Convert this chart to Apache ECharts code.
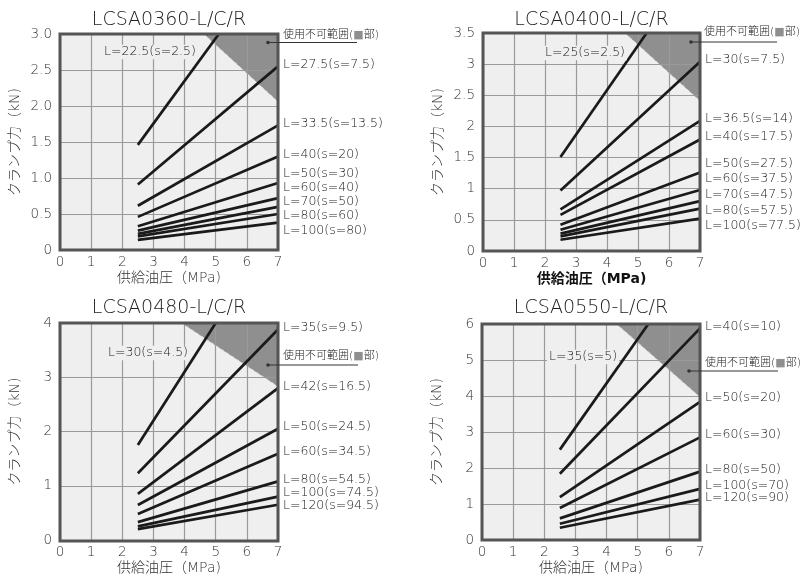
<!DOCTYPE html>
<html>
<head>
<meta charset="utf-8">
<script src="https://cdn.jsdelivr.net/npm/echarts@6/dist/echarts.min.js"></script>
<style>html,body{margin:0;padding:0;background:#fff}#c{width:804px;height:576px}</style>
</head>
<body>
<div id="c"></div>
<script>
// ---------------- DATA ----------------
const titles = ['LCSA0360-L/C/R', 'LCSA0400-L/C/R', 'LCSA0480-L/C/R', 'LCSA0550-L/C/R'];
const xName = '供給油圧（MPa)';
const yName = 'クランプ力（kN)';
const noteText = '使用不可範囲(■部)';
const xTicks = ['0', '1', '2', '3', '4', '5', '6', '7'];

// panel 1
const p1YTicks = ['0', '0.5', '1.0', '1.5', '2.0', '2.5', '3.0'];
const p1Names = ['L=22.5(s=2.5)', 'L=27.5(s=7.5)', 'L=33.5(s=13.5)', 'L=40(s=20)', 'L=50(s=30)', 'L=60(s=40)', 'L=70(s=50)', 'L=80(s=60)', 'L=100(s=80)'];
const p1StartX = [2.5, 2.5, 2.5, 2.5, 2.5, 2.5, 2.5, 2.5, 2.5];
const p1StartY = [1.46, 0.91, 0.615, 0.46, 0.33, 0.27, 0.225, 0.19, 0.14];
const p1EndX = [5.1, 7, 7, 7, 7, 7, 7, 7, 7];
const p1EndY = [3.0, 2.55, 1.73, 1.30, 0.93, 0.72, 0.60, 0.50, 0.38];
const p1Region = [[4.62, 3.0], [7, 3.0], [7, 2.06]];

// panel 2
const p2YTicks = ['0', '0.5', '1', '1.5', '2', '2.5', '3', '3.5'];
const p2Names = ['L=25(s=2.5)', 'L=30(s=7.5)', 'L=36.5(s=14)', 'L=40(s=17.5)', 'L=50(s=27.5)', 'L=60(s=37.5)', 'L=70(s=47.5)', 'L=80(s=57.5)', 'L=100(s=77.5)'];
const p2StartX = [2.5, 2.5, 2.5, 2.5, 2.5, 2.5, 2.5, 2.5, 2.5];
const p2StartY = [1.51, 0.97, 0.67, 0.58, 0.42, 0.34, 0.28, 0.235, 0.18];
const p2EndX = [5.28, 7, 7, 7, 7, 7, 7, 7, 7];
const p2EndY = [3.5, 3.04, 2.09, 1.79, 1.26, 0.98, 0.80, 0.68, 0.52];
const p2Region = [[4.58, 3.5], [7, 3.5], [7, 2.41]];

// panel 3
const p3YTicks = ['0', '1', '2', '3', '4'];
const p3Names = ['L=30(s=4.5)', 'L=35(s=9.5)', 'L=42(s=16.5)', 'L=50(s=24.5)', 'L=60(s=34.5)', 'L=80(s=54.5)', 'L=100(s=74.5)', 'L=120(s=94.5)'];
const p3StartX = [2.5, 2.5, 2.5, 2.5, 2.5, 2.5, 2.5, 2.5];
const p3StartY = [1.75, 1.23, 0.85, 0.645, 0.48, 0.33, 0.25, 0.20];
const p3EndX = [5.0, 7, 7, 7, 7, 7, 7, 7];
const p3EndY = [4.0, 3.88, 2.80, 2.05, 1.59, 1.08, 0.80, 0.65];
const p3Region = [[3.9, 4], [7, 4], [7, 2.83]];

// panel 4
const p4YTicks = ['0', '1', '2', '3', '4', '5', '6'];
const p4Names = ['L=35(s=5)', 'L=40(s=10)', 'L=50(s=20)', 'L=60(s=30)', 'L=80(s=50)', 'L=100(s=70)', 'L=120(s=90)'];
const p4StartX = [2.5, 2.5, 2.5, 2.5, 2.5, 2.5, 2.5];
const p4StartY = [2.51, 1.84, 1.19, 0.89, 0.60, 0.45, 0.34];
const p4EndX = [5.34, 7, 7, 7, 7, 7, 7];
const p4EndY = [6.0, 5.88, 3.84, 2.85, 1.90, 1.42, 1.12];
const p4Region = [[4.32, 6], [7, 6], [7, 3.97]];

// ---------------- LAYOUT / STYLE ----------------
const FONT = "'DejaVu Sans', 'Noto Sans CJK JP', sans-serif";
const W = '300 ';
const TXT = '#222';
const GRIDS = [
  {left: 60, top: 34, width: 218, height: 216},
  {left: 483, top: 33, width: 217, height: 218},
  {left: 60, top: 323, width: 218, height: 218},
  {left: 482, top: 324, width: 218, height: 216}
];
const TITLE_Y = [20, 20, 308, 308];
const LAYOUT = [
  {inline: {x: 104, y: 52}, rightX: 283, rightY: [65, 124, 155, 174, 188, 202, 216, 231],
   note: {tx: 283, ty: 35, ly: 42.5, dx: 268, ex: 357}},
  {inline: {x: 545, y: 53}, rightX: 705, rightY: [60, 119, 137, 164, 179, 195, 211, 226],
   note: {tx: 704, ty: 32, ly: 42, dx: 691, ex: 777}},
  {inline: {x: 108, y: 353}, rightX: 283, rightY: [328, 387, 427, 452, 480, 493, 506],
   note: {tx: 283, ty: 356, ly: 365, dx: 268, ex: 358}},
  {inline: {x: 549, y: 357}, rightX: 705, rightY: [327, 398, 435, 470, 486, 498],
   note: {tx: 705, ty: 363, ly: 371, dx: 689, ex: 778}}
];

const panels = [
  {yTicks: p1YTicks, yMax: 3.0, yStep: 0.5, names: p1Names, sx: p1StartX, sy: p1StartY, ex: p1EndX, ey: p1EndY, region: p1Region},
  {yTicks: p2YTicks, yMax: 3.5, yStep: 0.5, names: p2Names, sx: p2StartX, sy: p2StartY, ex: p2EndX, ey: p2EndY, region: p2Region},
  {yTicks: p3YTicks, yMax: 4, yStep: 1, names: p3Names, sx: p3StartX, sy: p3StartY, ex: p3EndX, ey: p3EndY, region: p3Region},
  {yTicks: p4YTicks, yMax: 6, yStep: 1, names: p4Names, sx: p4StartX, sy: p4StartY, ex: p4EndX, ey: p4EndY, region: p4Region}
];

const grid = [], xAxis = [], yAxis = [], series = [], graphic = [];

panels.forEach((p, i) => {
  const g = GRIDS[i];
  grid.push({left: g.left, top: g.top, width: g.width, height: g.height, show: false});
  xAxis.push({
    gridIndex: i, type: 'value', min: 0, max: 7, interval: 1,
    axisLine: {show: false}, axisTick: {show: false},
    splitLine: {show: true, lineStyle: {color: '#9a9a9a', width: 1.2}},
    axisLabel: {fontSize: 13.5, color: '#333', margin: 6, fontFamily: FONT, fontWeight: 300,
      formatter: v => xTicks[Math.round(v)]},
    name: xName, nameLocation: 'middle', nameGap: 21,
    nameTextStyle: {fontSize: 14, color: i === 1 ? '#111' : '#333', fontFamily: FONT, fontWeight: i === 1 ? 'bold' : 300}
  });
  yAxis.push({
    gridIndex: i, type: 'value', min: 0, max: p.yMax, interval: p.yStep,
    axisLine: {show: false}, axisTick: {show: false},
    splitLine: {show: true, lineStyle: {color: '#9a9a9a', width: 1.2}},
    axisLabel: {fontSize: 13.5, color: '#333', margin: 8, fontFamily: FONT, fontWeight: 300,
      formatter: v => p.yTicks[Math.round(v / p.yStep)]},
    name: yName, nameLocation: 'middle', nameGap: 38,
    nameTextStyle: {fontSize: 14, color: '#333', fontFamily: FONT, fontWeight: 300}
  });
  // unusable region
  series.push({
    type: 'custom', xAxisIndex: i, yAxisIndex: i, z: -5, silent: true, clip: true,
    data: [0],
    renderItem: (params, api) => {
      const pts = p.region.map(pt => api.coord(pt));
      return {type: 'group', children: [
        {type: 'polygon', shape: {points: pts}, style: {fill: '#8f8f8f'}},
        {type: 'line', shape: {x1: pts[0][0], y1: pts[0][1], x2: pts[2][0], y2: pts[2][1]},
         style: {stroke: '#d8d8d8', lineWidth: 1, lineDash: [3, 3]}}
      ]};
    }
  });
  p.names.forEach((n, k) => {
    series.push({
      type: 'line', name: n, xAxisIndex: i, yAxisIndex: i, z: 5,
      data: [[p.sx[k], p.sy[k]], [p.ex[k], p.ey[k]]],
      symbol: 'none', clip: true, silent: true,
      lineStyle: {color: '#1a1a1a', width: 2.7}
    });
  });
  // graphics
  graphic.push({type: 'rect', z: -100, shape: {x: g.left, y: g.top, width: g.width, height: g.height}, style: {fill: '#efeff0'}});
  graphic.push({type: 'rect', z: 100, shape: {x: g.left, y: g.top, width: g.width, height: g.height}, style: {fill: 'none', stroke: '#555', lineWidth: 3}});
  graphic.push({type: 'text', z: 100, x: g.left + g.width / 2, y: TITLE_Y[i],
    style: {text: titles[i], font: W + '19px ' + FONT, fill: TXT, textAlign: 'center', textVerticalAlign: 'middle'}});
  const L = LAYOUT[i];
  graphic.push({type: 'text', z: 100, x: L.inline.x - 2, y: L.inline.y,
    style: {text: p.names[0], font: W + '12.5px ' + FONT, fill: TXT, textAlign: 'left', textVerticalAlign: 'middle',
      backgroundColor: '#efeff0', padding: [1, 2]}});
  p.names.slice(1).forEach((n, k) => {
    graphic.push({type: 'text', z: 100, x: L.rightX, y: L.rightY[k],
      style: {text: n, font: W + '12.5px ' + FONT, fill: TXT, textAlign: 'left', textVerticalAlign: 'middle'}});
  });
  const N = L.note;
  graphic.push({type: 'text', z: 100, x: N.tx, y: N.ty,
    style: {text: '使用不可範囲({g|■}部)', font: W + '11px ' + FONT, fill: TXT, textAlign: 'left', textVerticalAlign: 'middle',
      rich: {g: {fill: '#8f8f8f', color: '#8f8f8f', font: '11px ' + FONT}}}});
  graphic.push({type: 'line', z: 100, shape: {x1: N.dx, y1: N.ly, x2: N.ex, y2: N.ly}, style: {stroke: '#333', lineWidth: 1}});
  graphic.push({type: 'circle', z: 100, shape: {cx: N.dx, cy: N.ly, r: 1.8}, style: {fill: '#333'}});
});

const chart = echarts.init(document.getElementById('c'), null, {renderer: 'canvas'});
chart.setOption({animation: false, grid, xAxis, yAxis, series, graphic});
</script>
</body>
</html>
